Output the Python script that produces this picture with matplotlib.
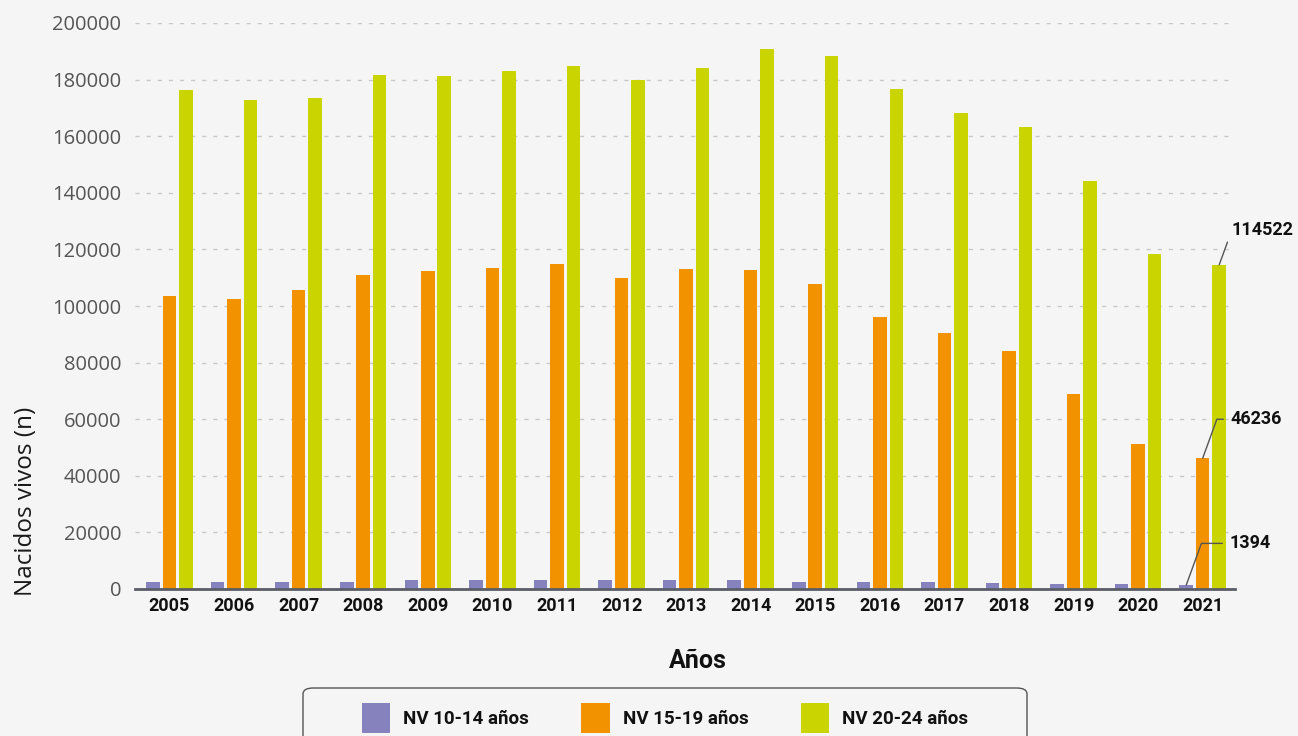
import matplotlib
matplotlib.use("Agg")
import matplotlib.pyplot as plt
from matplotlib.patches import FancyBboxPatch
import numpy as np

# data
years = ["2005", "2006", "2007", "2008", "2009", "2010", "2011", "2012", "2013",
         "2014", "2015", "2016", "2017", "2018", "2019", "2020", "2021"]
nv_10_14 = [2600, 2600, 2600, 2600, 3200, 3200, 3200, 3200, 3200,
            3200, 2600, 2300, 2300, 2200, 1900, 1600, 1394]
nv_15_19 = [103500, 102600, 105800, 111000, 112400, 113500, 114900, 110000, 113100,
            112800, 107800, 96100, 90500, 84100, 69000, 51200, 46236]
nv_20_24 = [176400, 172900, 173500, 181700, 181300, 183100, 184800, 179900, 184200,
            190800, 188300, 176800, 168200, 163300, 144200, 118200, 114522]
series_labels = ["NV 10-14 años", "NV 15-19 años", "NV 20-24 años"]
colors = ["#8582be", "#f39200", "#cad400"]

bg = "#f5f5f5"
bold_font = "Roboto"
W, H = 1298, 736
fig = plt.figure(figsize=(W / 100, H / 100), dpi=100, facecolor=bg)
ax = fig.add_axes([135 / W, 1 - 589 / H, 1100 / W, 566 / H], facecolor=bg)

x = np.arange(len(years))
w = 0.21
off = 0.255
for i, (vals, lab, c) in enumerate(zip([nv_10_14, nv_15_19, nv_20_24], series_labels, colors)):
    ax.bar(x + (i - 1) * off, vals, width=w, color=c, label=lab, zorder=3)

ax.set_xlim(-0.534, 16.5)
ax.set_ylim(0, 200000)
ax.set_yticks(np.arange(0, 200001, 20000))
ax.set_yticklabels([str(v) for v in range(0, 200001, 20000)],
                   fontsize=14.5, color="#555555", family="Open Sans")
ax.set_xticks(x)
ax.set_xticklabels(years, fontsize=13, color="#111111", family=bold_font,
                   fontweight="bold")
ax.tick_params(axis="both", length=0)
ax.tick_params(axis="y", pad=10)
ax.tick_params(axis="x", pad=6)
ax.grid(axis="y", color="#c8c8c8", linestyle=(0, (3, 5)), linewidth=1, zorder=0)
for s in ["left", "right", "top"]:
    ax.spines[s].set_visible(False)
ax.spines["bottom"].set_color("#5a5d66")
ax.spines["bottom"].set_linewidth(2)
ax.spines["bottom"].set_zorder(4)

ax.set_ylabel("Nacidos vivos (n)", fontsize=17.5, color="#1a1a1a", family="Open Sans")
ax.yaxis.set_label_coords(-0.088, 0.155)
ax.set_xlabel("Años", fontsize=18, color="#111111", family=bold_font,
              fontweight="bold")
ax.xaxis.set_label_coords(0.512, -0.106)

# labels on the last year
last = len(years) - 1
for i, (vals, dxy) in enumerate(zip([nv_10_14, nv_15_19, nv_20_24],
                                    [(31, 30), (20, 28), (9, 25)])):
    ax.annotate(str(vals[last]), xy=(last + (i - 1) * off, vals[last]),
                xytext=dxy, textcoords="offset points", ha="left", va="center",
                fontsize=13, fontweight="bold", family=bold_font, color="#111111",
                arrowprops=dict(arrowstyle="-", color="#555555", lw=1,
                                connectionstyle="angle,angleA=180,angleB=70,rad=0",
                                shrinkA=3, shrinkB=0),
                zorder=5, annotation_clip=False)

# legend, with a wide rounded box drawn behind it
frame = FancyBboxPatch((303 / W, 1 - 750 / H), 724 / W, 62 / H,
                       boxstyle="round,pad=0,rounding_size=0.008",
                       transform=fig.transFigure, facecolor=bg,
                       edgecolor="#555555", linewidth=1, zorder=0)
fig.patches.append(frame)
leg = fig.legend(loc="center", bbox_to_anchor=(665 / W, 1 - 718 / H),
                 ncol=3, frameon=False,
                 prop=dict(family=bold_font, weight="bold", size=13.5),
                 handlelength=1.5, handleheight=2.1, columnspacing=2.8,
                 handletextpad=0.7, borderpad=0.0, borderaxespad=0)
for t in leg.get_texts():
    t.set_color("#111111")

fig.savefig("out.png", dpi=100, facecolor=bg)
